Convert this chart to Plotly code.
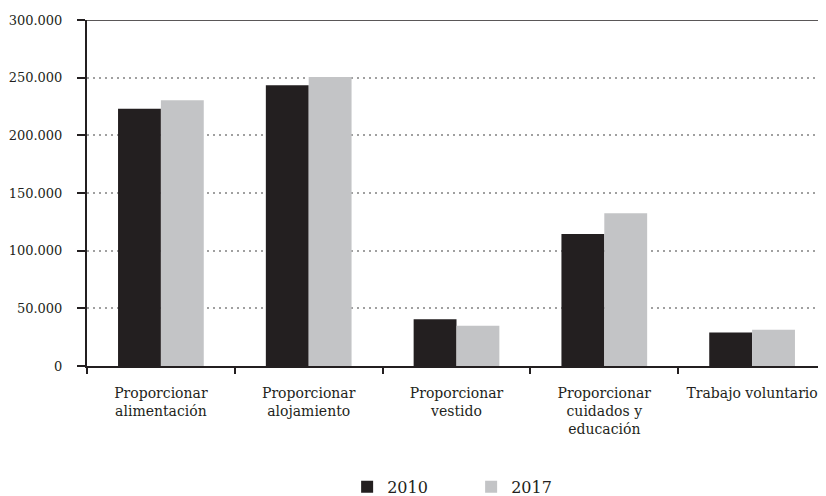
import plotly.graph_objects as go

categories = ["Proporcionar<br>alimentación", "Proporcionar<br>alojamiento", "Proporcionar<br>vestido",
              "Proporcionar<br>cuidados y<br>educación", "Trabajo voluntario"]
values_2010 = [223000, 243500, 40500, 114500, 29000]
values_2017 = [230500, 250500, 35000, 132500, 31500]
y_ticks = [0, 50000, 100000, 150000, 200000, 250000, 300000]
y_ticklabels = ["0", "50.000", "100.000", "150.000", "200.000", "250.000", "300.000"]

font_family = "DejaVu Serif"
ink = "#231f20"

fig = go.Figure()
fig.add_trace(go.Bar(name="2010", x=categories, y=values_2010, marker=dict(color=ink, line=dict(width=0))))
fig.add_trace(go.Bar(name="2017", x=categories, y=values_2017, marker=dict(color="#c3c4c6", line=dict(width=0))))

fig.update_layout(
    width=818, height=488,
    margin=dict(l=79, r=0, t=12, b=130, autoexpand=False),
    paper_bgcolor="white", plot_bgcolor="white",
    barmode="group", bargap=0.42, bargroupgap=0,
    font=dict(family=font_family, size=14, color=ink),
    showlegend=True,
    legend=dict(orientation="h", x=0.352, xanchor="left", y=-0.30, yanchor="top",
                font=dict(size=16, color=ink, family=font_family), entrywidth=79, entrywidthmode="pixels",
                itemsizing="constant"),
)
fig.update_xaxes(
    automargin=False, tickangle=0,
    showline=True, linecolor=ink, linewidth=2,
    ticks="outside", tickson="boundaries", ticklen=6, tickcolor=ink, tickwidth=1.5,
    showgrid=False, range=[-0.5, 4.5],
    tickfont=dict(size=14, family=font_family, color=ink),
    ticklabelstandoff=13,
)
fig.update_yaxes(
    automargin=False,
    range=[0, 300000], tickvals=y_ticks, ticktext=y_ticklabels,
    showline=True, linecolor=ink, linewidth=2,
    ticks="outside", ticklen=8, tickcolor=ink, tickwidth=1.5,
    showgrid=True, gridcolor="#a0a0a0", griddash="2px,4px", gridwidth=1.5,
    zeroline=False,
    tickfont=dict(size=13, family=font_family, color=ink),
    ticklabelstandoff=12,
)
fig.add_shape(type="line", xref="paper", yref="y", x0=0, x1=1, y0=300000, y1=300000,
              line=dict(color=ink, width=1.5))

fig.write_html("out.html")
